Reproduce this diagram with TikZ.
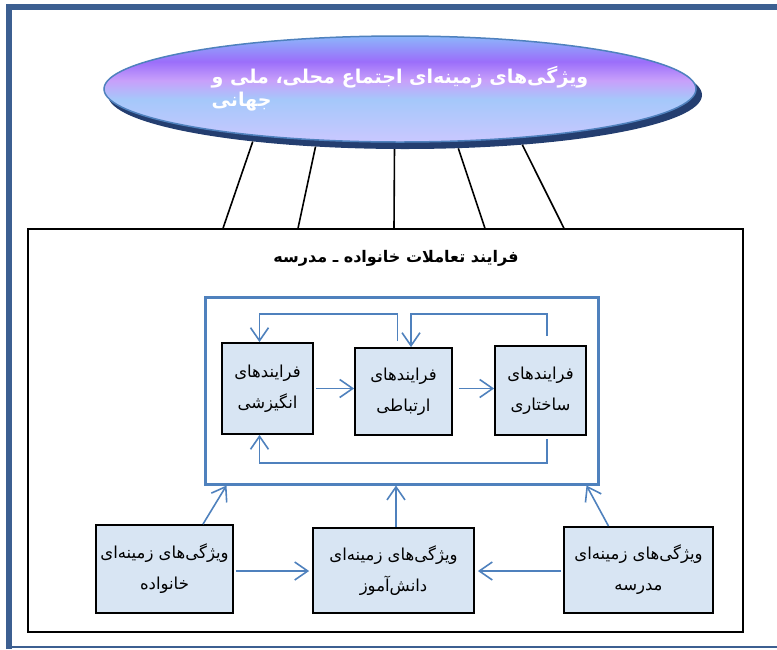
\documentclass[tikz,border=0pt]{standalone}
\usepackage{fontspec}
\newfontfamily\farsifont[Script=Arabic]{DejaVu Sans}
\TeXXeTstate=1
\usetikzlibrary{shapes.geometric, calc, arrows.meta}
\newcommand{\fa}[1]{\beginR #1\endR}
\definecolor{linkblue}{RGB}{79,129,189}
\definecolor{frameblue}{RGB}{60,95,145}
\definecolor{boxfill}{RGB}{216,229,243}
\definecolor{shadowblue}{RGB}{36,62,112}
\definecolor{ellA}{RGB}{140,182,250}
\definecolor{ellB}{RGB}{155,110,250}
\definecolor{ellC}{RGB}{200,160,250}
\definecolor{ellD}{RGB}{165,200,250}
\definecolor{ellE}{RGB}{200,200,255}
\pgfdeclareverticalshading{ellshade}{100bp}{color(0bp)=(ellE); color(26bp)=(ellE); color(45bp)=(ellD); color(54bp)=(ellC); color(63bp)=(ellB); color(75bp)=(ellA); color(100bp)=(ellA)}

\begin{document}
\begin{tikzpicture}[yscale=-1, x=1pt, y=1pt, box/.style={draw, line width=1.8pt, fill=boxfill, inner sep=2pt, align=center, font=\farsifont\fontsize{16.5}{31}\selectfont}, flow/.style={draw=linkblue, line width=1.6pt, -{Straight Barb[length=13pt, width=18pt, line width=1.6pt]}}, tie/.style={draw=black, line width=1.6pt}]
    \useasboundingbox (0,0) rectangle (777,649);
    \draw[frameblue, line width=6pt] (9,649) -- (9,7) -- (777,7);
    \draw[frameblue, line width=1.5pt] (9,647) -- (777,647);

    \node[ellipse, fill=shadowblue, minimum width=594, minimum height=108] (e0) at (405,95) {};
    \node[ellipse, draw=linkblue, line width=1.5pt, shading=ellshade, minimum width=592, minimum height=106, align=left, text=white, font=\farsifont\bfseries\fontsize{19}{23}\selectfont] (e1) at (400,89) {\fa{ویژگی‌های زمینه‌ای اجتماع محلی، ملی و}\\\fa{جهانی}};

    \node[draw, line width=1.4pt, minimum width=715, minimum height=403] (m0) at (385.5,430.5) {};
    \node[font=\farsifont\bfseries\fontsize{16}{20}\selectfont] (t0) at (396,258) {\fa{فرایند تعاملات خانواده ـ مدرسه}};
    \node[draw=linkblue, line width=3pt, minimum width=393, minimum height=187] (m1) at (401.5,390.5) {};

    \foreach \ang/\xb in {197.8/223, 210.6/298, 259.5/394, 315/485, 337.2/564}
        \draw[tie] (e0.\ang) -- (\xb,0 |- m0.north);

    \node[box, minimum width=91, minimum height=91] (p1) at (267.5,388.5) {\fa{فرایندهای}\\\fa{انگیزشی}};
    \node[box, minimum width=97, minimum height=87] (p2) at (403.5,391.5) {\fa{فرایندهای}\\\fa{ارتباطی}};
    \node[box, minimum width=91, minimum height=89] (p3) at (540.5,390.5) {\fa{فرایندهای}\\\fa{ساختاری}};

    \node[box, minimum width=137, minimum height=88] (k1) at (164.5,569) {\fa{ویژگی‌های زمینه‌ای}\\\fa{خانواده}};
    \node[box, minimum width=161, minimum height=85] (k2) at (393.5,570.5) {\fa{ویژگی‌های زمینه‌ای}\\\fa{دانش‌آموز}};
    \node[box, minimum width=149, minimum height=86] (k3) at (638.5,570) {\fa{ویژگی‌های زمینه‌ای}\\\fa{مدرسه}};

    \draw[flow] ($(p1.east)+(2,0)$) -- (p1.east -| p2.west);
    \draw[flow] ($(p2.east)+(6,-3)$) -- ($(p2.east -| p3.west)+(0,-3)$);
    \draw[flow] ($(p2.north)+(-6,-6)$) -- ++(0,-27) -| ($(p1.north)+(-8,0)$);
    \draw[flow] ($(p3.north)+(6.5,-9)$) -- ++(0,-22) -| ($(p2.north)+(7.5,0)$);
    \draw[flow] ($(p3.south)+(6.5,3)$) -- ++(0,24) -| ($(p1.south)+(-8,0)$);

    \draw[flow] ($(k1.north)+(38.5,0)$) -- ($(m1.south west)+(23,0)$);
    \draw[flow] ($(k2.north)+(2.5,0)$) -- ($(k2.north |- m1.south)+(2.5,0)$);
    \draw[flow] ($(k3.north)+(-30,0)$) -- ($(m1.south east)+(-13,0)$);
    \draw[flow] ($(k1.east)+(2,2)$) -- ($(k1.east -| k2.west)+(-3,2)$);
    \draw[flow] ($(k3.west)+(-2,1)$) -- ($(k3.west -| k2.east)+(3,1)$);
\end{tikzpicture}
\end{document}
